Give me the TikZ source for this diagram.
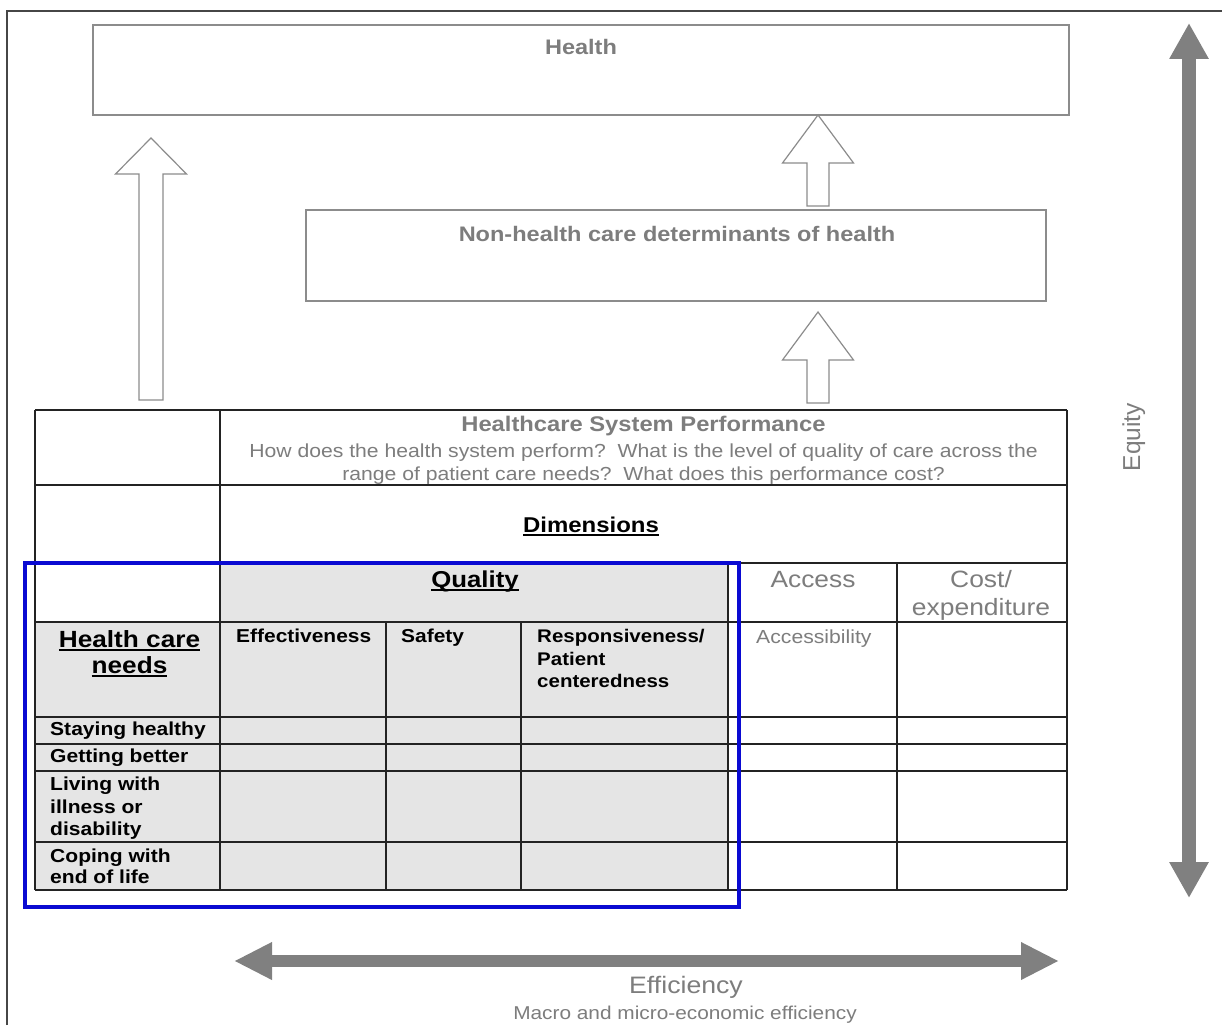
\documentclass[tikz,border=0pt]{standalone}
\usepackage{fontspec}
\setmainfont{Liberation Sans}[FakeStretch=1.12]
\newfontfamily\plainsans{Liberation Sans}
\usetikzlibrary{arrows.meta,calc}

\definecolor{boxgray}{RGB}{140,140,140}
\definecolor{txtgray}{RGB}{125,125,125}
\definecolor{cellfill}{RGB}{229,229,229}
\definecolor{gridline}{RGB}{35,35,35}
\definecolor{framegray}{RGB}{70,70,70}
\definecolor{hiblue}{RGB}{10,10,210}
\definecolor{axisgray}{RGB}{128,128,128}

\newcommand\fsz[1]{\fontsize{#1}{#1}\selectfont}
% heavier underline for the bold headings
\newcommand\hul[1]{\setbox0\hbox{#1}\rlap{\rule[-3.5pt]{\wd0}{1.9pt}}\box0}

\tikzset{
  panel/.style n args={2}{draw=boxgray, line width=1.2pt, inner sep=0pt, outer sep=0pt,
    minimum width=#1, minimum height=#2, anchor=north west},
  hollowline/.style={draw=boxgray, fill=white, line width=1.2pt, line join=miter},
  pics/hollowup/.style n args={3}{code={
    % #1 total length, #2 head length, #3 half shaft width
    \draw[hollowline] (-#3,0) -- (-#3,-#1+#2) -- (-35.5,-#1+#2) -- (0,-#1)
      -- (35.5,-#1+#2) -- (#3,-#1+#2) -- (#3,0) -- cycle;
  }},
  grid/.style={draw=gridline, line width=1.4pt},
  axis/.style={draw=axisgray, line width=14pt,
    {Triangle[length=36pt,width=37pt]}-{Triangle[length=36pt,width=37pt]}},
  heading/.style={txtgray, font=\bfseries\fsz{21}, anchor=base},
  subline/.style={txtgray, font=\fsz{18.9}, anchor=base},
  celltext/.style={font=\bfseries\fsz{18.7}, anchor=base west, inner sep=0pt},
  greytext/.style={txtgray, anchor=base, inner sep=0pt},
}

\begin{document}
\begin{tikzpicture}[x=1pt, y=-1pt]
\useasboundingbox (0,0) rectangle (1222,1025);
\fill[white] (0,0) rectangle (1222,1025);

% page frame
\draw[framegray, line width=1.5pt] (7,1025) -- (7,11) -- (1222,11);

% outcome boxes
\node[panel={976pt}{90pt}] (health) at (93,25) {};
\node[heading] (healthT) at (581,55) {Health};
\node[panel={740pt}{91pt}] (nonhc) at (306,210) {};
\node[heading] (nonhcT) at (677,241) {Non-health care determinants of health};

% hollow arrows between the levels
\pic (upA) at (151,400) {hollowup={262}{36}{12}};
\pic (upB) at (818,206) {hollowup={91}{48}{11}};
\pic (upC) at (818,403) {hollowup={91}{48}{11}};

% shaded quality block
\fill[cellfill] (220,563) rectangle (728,890);
\fill[cellfill] (35,622) rectangle (220,890);

% table grid
\foreach \yy in {410,485,563,622,717,744,771,842,890}
  \draw[grid] (35,\yy) -- (1067,\yy);
\draw[grid] (35,410) -- (35,890);
\draw[grid] (220,410) -- (220,890);
\draw[grid] (386,622) -- (386,890);
\draw[grid] (521,622) -- (521,890);
\draw[grid] (728,563) -- (728,890);
\draw[grid] (897,563) -- (897,890);
\draw[grid] (1067,410) -- (1067,890);

% header texts
\node[heading, font=\bfseries\fsz{21.2}] (hsp) at (643.5,431) {Healthcare System Performance};
\node[subline] (q1) at (643.5,457) {How does the health system perform?\ \ What is the level of quality of care across the};
\node[subline] (q2) at (643.5,480) {range of patient care needs?\ \ What does this performance cost?};
\node[anchor=base, font=\bfseries\fsz{21.4}] (dims) at (591,532) {\hul{Dimensions}};
\node[anchor=base, font=\bfseries\fsz{23}] (qual) at (475,587) {\hul{Quality}};
\node[greytext, font=\fsz{23.5}] (access) at (813,587) {Access};
\node[greytext, font=\fsz{23.6}] (cost) at (981,587) {Cost/};
\node[greytext, font=\fsz{23.6}] (costB) at (981,615) {expenditure};

% column heads
\node[anchor=base, font=\bfseries\fsz{23.4}] (hcn1) at (129.5,647) {\hul{Health care}};
\node[anchor=base, font=\bfseries\fsz{23.4}] (hcn2) at (129.5,673) {\hul{needs}};
\node[celltext] (eff) at (236,642) {Effectiveness};
\node[celltext] (saf) at (401,642) {Safety};
\node[celltext, font=\bfseries\fsz{18.3}] (resp1) at (537,642) {Responsiveness/};
\node[celltext, font=\bfseries\fsz{18.3}] (resp2) at (537,665) {Patient};
\node[celltext, font=\bfseries\fsz{18.3}] (resp3) at (537,687) {centeredness};
\node[celltext, font=\fsz{18.9}, txtgray] (accb) at (756,643) {Accessibility};

% row labels
\node[celltext, font=\bfseries\fsz{18.8}] (r1) at (50,735) {Staying healthy};
\node[celltext, font=\bfseries\fsz{18.8}] (r2) at (50,762) {Getting better};
\node[celltext, font=\bfseries\fsz{18.8}] (r3a) at (50,790) {Living with};
\node[celltext, font=\bfseries\fsz{18.8}] (r3b) at (50,813) {illness or};
\node[celltext, font=\bfseries\fsz{18.8}] (r3c) at (50,835) {disability};
\node[celltext, font=\bfseries\fsz{18.8}] (r4a) at (50,862) {Coping with};
\node[celltext, font=\bfseries\fsz{18.8}] (r4b) at (50,883) {end of life};

% blue frame round the quality block
\draw[hiblue, line width=4.5pt] (25,563) rectangle (739,907);

% equity axis
\coordinate (eqTop) at (1189,23);
\coordinate (eqBot) at (1189,898);
\draw[axis] (eqTop) -- (eqBot);
\node[greytext, rotate=90, font=\plainsans\fsz{24.5}] (equity) at (1140,437) {Equity};

% efficiency axis
\coordinate (efL) at (234,961);
\coordinate (efR) at (1059,961);
\draw[axis, line width=12pt, {Triangle[length=38pt,width=35pt]}-{Triangle[length=38pt,width=35pt]}] (efL) -- (efR);
\node[greytext, font=\fsz{23.8}] (effic) at (686,993) {Efficiency};
\node[greytext, font=\fsz{18.6}] (macro) at (685,1019) {Macro and micro-economic efficiency};
\end{tikzpicture}
\end{document}
